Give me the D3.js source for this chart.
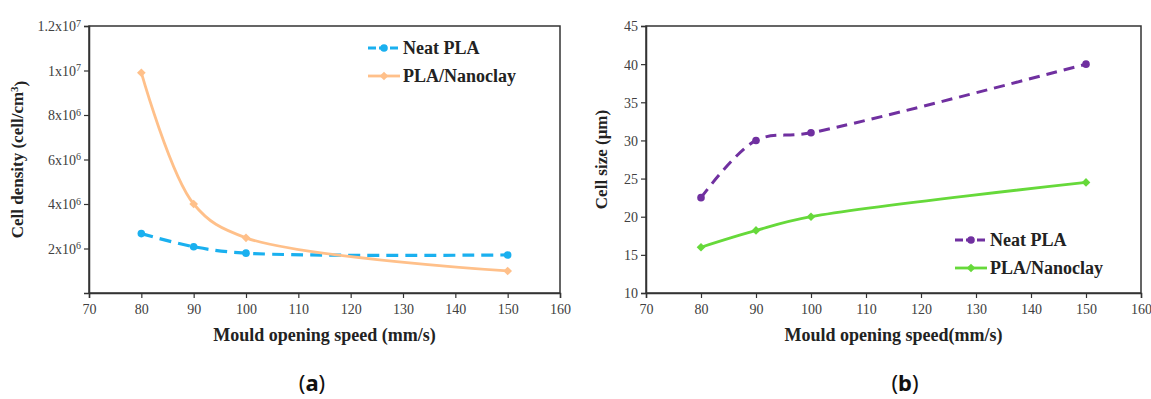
<!DOCTYPE html>
<html>
<head>
<meta charset="utf-8">
<script src="https://cdn.jsdelivr.net/npm/d3@7"></script>
<style>
  body { margin: 0; background: #fff; }
  svg { display: block; }
</style>
</head>
<body>
<svg id="chart" width="1151" height="399"></svg>
<script>
// data
let speeds = [80, 90, 100, 150];
let xTicks = [70, 80, 90, 100, 110, 120, 130, 140, 150, 160];

let densityNeat = [2.67e6, 2.08e6, 1.79e6, 1.71e6];
let densityClay = [9.9e6, 4.0e6, 2.48e6, 0.99e6];
let densityTicks = [2e6, 4e6, 6e6, 8e6, 1e7, 1.2e7];
let densityTickLabels = [["2x10", "6"], ["4x10", "6"], ["6x10", "6"], ["8x10", "6"], ["1x10", "7"], ["1.2x10", "7"]];

let sizeNeat = [22.5, 30, 31, 40];
let sizeClay = [16, 18.2, 20, 24.5];
let sizeTicks = [10, 15, 20, 25, 30, 35, 40, 45];

let seriesNames = ["Neat PLA", "PLA/Nanoclay"];

let svg = d3.select("#chart");
let serif = "'Liberation Serif', 'DejaVu Serif', serif";
let tickColor = "#404040";

function drawPanel(opts) {
  let g = svg.append("g");
  let x = d3.scaleLinear().domain([70, 160]).range([opts.left, opts.right]);
  let y = d3.scaleLinear().domain(opts.yDomain).range([opts.bottom, opts.top]);

  // frame
  g.append("rect")
    .attr("x", opts.left).attr("y", opts.top)
    .attr("width", opts.right - opts.left).attr("height", opts.bottom - opts.top)
    .attr("fill", "none").attr("stroke", "#333").attr("stroke-width", 1.5);

  // x axis
  let xAxis = g.append("g")
    .attr("transform", "translate(0," + opts.bottom + ")")
    .call(d3.axisBottom(x).tickValues(xTicks).tickSize(5).tickPadding(6));
  xAxis.select(".domain").attr("stroke", "#333").attr("stroke-width", 1.5);
  xAxis.selectAll("line").attr("stroke", "#333").attr("stroke-width", 1.2);
  xAxis.selectAll("text")
    .style("font-family", serif).style("font-size", "14px").attr("fill", tickColor);

  // y axis
  let yAxis = g.append("g")
    .attr("transform", "translate(" + opts.left + ",0)")
    .call(d3.axisLeft(y).tickValues(opts.yTicks).tickSize(5).tickPadding(4).tickFormat(""));
  yAxis.select(".domain").attr("stroke", "#333").attr("stroke-width", 1.5);
  yAxis.selectAll("line").attr("stroke", "#333").attr("stroke-width", 1.2);
  yAxis.selectAll(".tick text").remove();
  yAxis.selectAll(".tick").each(function(d, i) {
    let t = d3.select(this).append("text")
      .attr("x", -8).attr("dy", "0.35em")
      .attr("text-anchor", "end")
      .style("font-family", serif).style("font-size", "14px").attr("fill", tickColor);
    opts.tickLabel(t, d, i);
  });

  // series
  opts.series.forEach(function(s) {
    let line = d3.line()
      .x(function(d, i) { return x(speeds[i]); })
      .y(function(d) { return y(d); })
      .curve(d3.curveCatmullRom.alpha(0.5));
    g.append("path")
      .attr("d", line(s.values))
      .attr("fill", "none")
      .attr("stroke", s.color)
      .attr("stroke-width", s.width)
      .attr("stroke-dasharray", s.dash || null);
    s.values.forEach(function(v, i) {
      drawMarker(g, s.marker, x(speeds[i]), y(v), s.color);
    });
  });

  // legend
  opts.series.forEach(function(s, i) {
    let ly = opts.legendY + i * 28;
    g.append("line")
      .attr("x1", opts.legendX).attr("x2", opts.legendX + 32)
      .attr("y1", ly).attr("y2", ly)
      .attr("stroke", s.color).attr("stroke-width", s.width)
      .attr("stroke-dasharray", s.dash ? "8,3" : null);
    drawMarker(g, s.marker, opts.legendX + 16, ly, s.color);
    g.append("text")
      .attr("x", opts.legendX + 35).attr("y", ly).attr("dy", "0.35em")
      .style("font-family", serif).style("font-size", "18px").style("font-weight", "bold")
      .attr("fill", "#222")
      .text(seriesNames[i]);
  });

  // axis titles
  g.append("text")
    .attr("x", (opts.left + opts.right) / 2).attr("y", opts.bottom + 48)
    .attr("text-anchor", "middle")
    .style("font-family", serif).style("font-size", "18px").style("font-weight", "bold")
    .attr("fill", "#222")
    .text(opts.xTitle);

  let yt = g.append("text")
    .attr("transform", "translate(" + opts.yTitleX + "," + ((opts.top + opts.bottom) / 2) + ") rotate(-90)")
    .attr("text-anchor", "middle")
    .style("font-family", serif).style("font-size", "17px").style("font-weight", "bold")
    .attr("fill", "#222");
  opts.yTitle(yt);

  // panel caption
  let cap = svg.append("text")
    .attr("x", opts.captionX).attr("y", 391)
    .attr("text-anchor", "middle")
    .style("font-family", "'Noto Sans', 'DejaVu Sans', sans-serif").style("font-size", "22px")
    .attr("fill", "#111");
  cap.append("tspan").text("(");
  cap.append("tspan").style("font-weight", "bold").text(opts.caption);
  cap.append("tspan").text(")");
}

function drawMarker(g, type, cx, cy, color) {
  if (type == "circle") {
    g.append("circle").attr("cx", cx).attr("cy", cy).attr("r", 3.8).attr("fill", color);
  } else {
    g.append("path")
      .attr("d", d3.symbol().type(d3.symbolDiamond2).size(48)())
      .attr("transform", "translate(" + cx + "," + cy + ")")
      .attr("fill", color);
  }
}

// panel (a)
drawPanel({
  left: 89, right: 560, top: 26, bottom: 293,
  yDomain: [0, 1.2e7], yTicks: densityTicks,
  tickLabel: function(t, d, i) {
    t.append("tspan").text(densityTickLabels[i][0]);
    t.append("tspan").attr("dy", "-0.45em").style("font-size", "10px").text(densityTickLabels[i][1]);
  },
  series: [
    { values: densityNeat, color: "#1ab0ef", width: 3.2, dash: "12,7", marker: "circle" },
    { values: densityClay, color: "#ffc08a", width: 2.8, marker: "diamond" }
  ],
  legendX: 368, legendY: 48,
  xTitle: "Mould opening speed (mm/s)",
  yTitleX: 23,
  yTitle: function(t) {
    t.append("tspan").text("Cell density (cell/cm");
    t.append("tspan").attr("dy", "-0.45em").style("font-size", "11px").text("3");
    t.append("tspan").attr("dy", "0.45em").text(")");
  },
  captionX: 312, caption: "a"
});

// panel (b)
drawPanel({
  left: 646, right: 1141, top: 26, bottom: 293,
  yDomain: [10, 45], yTicks: sizeTicks,
  tickLabel: function(t, d) { t.text(d); },
  series: [
    { values: sizeNeat, color: "#7030a0", width: 3, dash: "11,7", marker: "circle" },
    { values: sizeClay, color: "#66d93a", width: 2.8, marker: "diamond" }
  ],
  legendX: 955, legendY: 240,
  xTitle: "Mould opening speed(mm/s)",
  yTitleX: 607,
  yTitle: function(t) { t.text("Cell size (μm)"); },
  captionX: 905, caption: "b"
});
</script>
</body>
</html>
